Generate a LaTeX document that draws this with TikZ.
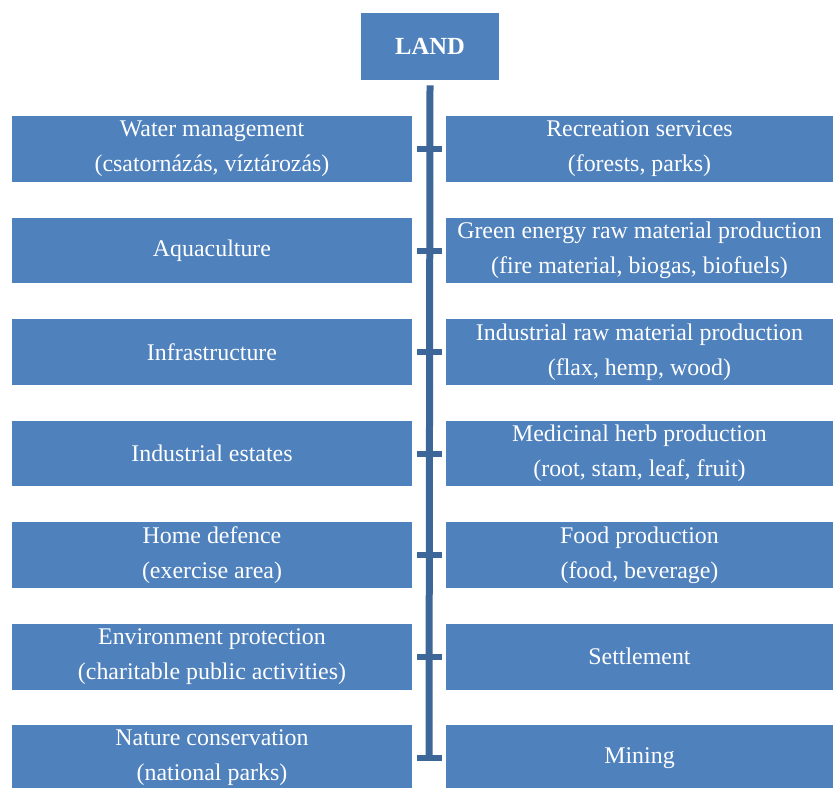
\documentclass[tikz,border=0pt]{standalone}
\usepackage{fontspec}
\setmainfont{Liberation Serif}
\usetikzlibrary{calc}

\definecolor{boxblue}{HTML}{4F81BD}
\definecolor{lineblue}{HTML}{3D6699}

\tikzset{
  landbox/.style={fill=boxblue, text=white, font=\bfseries\fontsize{14}{20}\selectfont,
    minimum width=2.76cm, minimum height=1.34cm, inner sep=0pt},
  leftbox/.style={fill=boxblue, text=white, align=center, font=\fontsize{13.6}{20}\selectfont,
    minimum width=8cm, minimum height=1.32cm, inner sep=0pt},
  rightbox/.style={leftbox, minimum width=7.74cm},
  stem/.style={draw=lineblue, line width=0.14cm},
  tick/.style={draw=lineblue, line width=0.12cm, shorten <=0.1cm, shorten >=0.08cm},
}

\begin{document}
\begin{tikzpicture}[x=0.02cm,y=-0.02cm]
  \useasboundingbox (0,0) rectangle (834,787);
  \node[landbox] (land) at (430,46.5) {LAND};
  % uses on the left, uses on the right
  \foreach \lt/\rt [count=\i] in {
      {Water management\\(csatornázás, víztározás)}/{Recreation services\\(forests, parks)},
      {Aquaculture}/{Green energy raw material production\\(fire material, biogas, biofuels)},
      {Infrastructure}/{Industrial raw material production\\(flax, hemp, wood)},
      {Industrial estates}/{Medicinal herb production\\(root, stam, leaf, fruit)},
      {Home defence\\(exercise area)}/{Food production\\(food, beverage)},
      {Environment protection\\(charitable public activities)}/{Settlement},
      {Nature conservation\\(national parks)}/{Mining}}{
    \node[leftbox] (l\i) at (212,{149+101.5*(\i-1)}) {\lt};
    \node[rightbox] (r\i) at (639.5,{149+101.5*(\i-1)}) {\rt};
    \draw[tick] (l\i.east) -- (r\i.west);
  }
  \draw[stem] ([yshift=-0.1cm]land.south) -- ($(l7.east)!0.5!(r7.west)$);
\end{tikzpicture}
\end{document}
